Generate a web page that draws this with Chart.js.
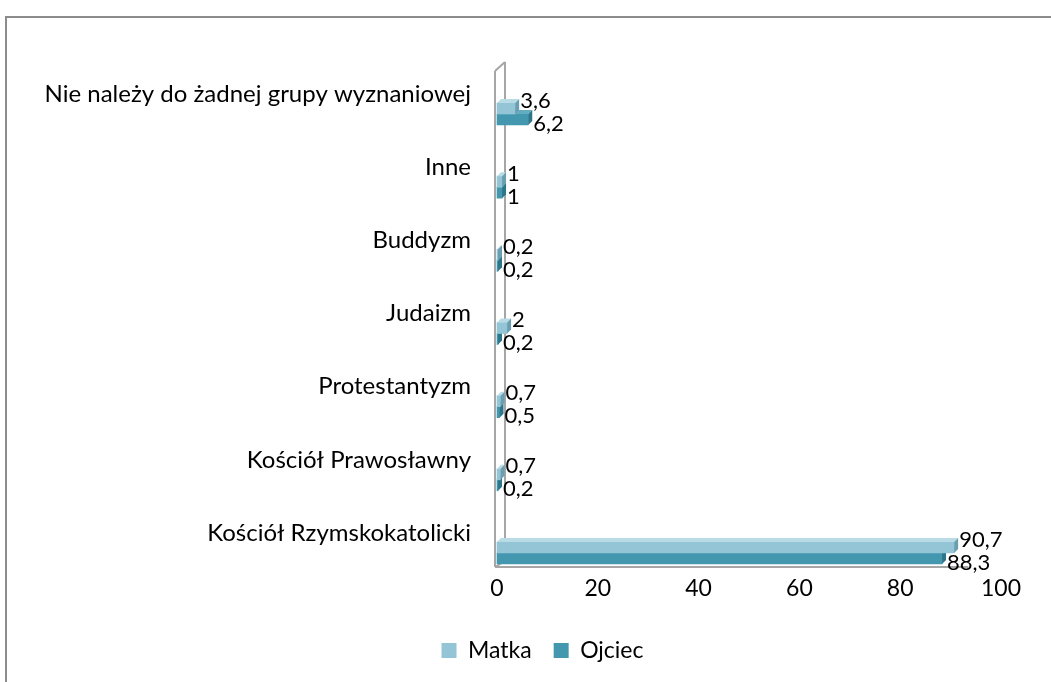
<!DOCTYPE html>
<html>
<head>
<meta charset="utf-8">
<script src="https://cdn.jsdelivr.net/npm/chart.js@4"></script>
<style>
    body { margin: 0; background: #fff; }
    #frame {
        position: absolute; left: 5px; top: 16px; width: 1046px; height: 666px;
        border-left: 2px solid #8c8c8c; border-top: 2px solid #8c8c8c;
    }
    #wrap { position: absolute; left: 0; top: 0; width: 1051px; height: 682px; }
</style>
</head>
<body>
<div id="frame"></div>
<div id="wrap"><canvas id="religionChart"></canvas></div>
<script>
const categories = ['Nie należy do żadnej grupy wyznaniowej', 'Inne', 'Buddyzm', 'Judaizm', 'Protestantyzm', 'Kościół Prawosławny', 'Kościół Rzymskokatolicki'];
const matka = [3.6, 1, 0.2, 2, 0.7, 0.7, 90.7];
const ojciec = [6.2, 1, 0.2, 0.2, 0.5, 0.2, 88.3];
const xTicks = [0, 20, 40, 60, 80, 100];

const FONT = 'Lato, "Open Sans", sans-serif';

// fake Excel 3D look: walls, top + right face on each bar, value labels
const bars3d = {
    id: 'bars3d',
    afterLayout(chart) {
        // legend sits a bit right of the canvas centre in the original
        if (chart.legend) {
            chart.legend.left += 42;
            chart.legend.right += 42;
        }
    },
    beforeDatasetsDraw(chart) {
        const ctx = chart.ctx;
        const a = chart.chartArea;
        const floor = a.bottom + 14;
        const wallTop = a.top - 52;
        ctx.save();
        ctx.strokeStyle = '#a6a6a6';
        ctx.lineWidth = 2;
        ctx.beginPath();
        ctx.moveTo(a.left - 2, wallTop + 9); ctx.lineTo(a.left - 2, floor);
        ctx.moveTo(a.left + 8, wallTop); ctx.lineTo(a.left + 8, floor - 6);
        ctx.moveTo(a.left - 2, wallTop + 9); ctx.lineTo(a.left + 8, wallTop);
        ctx.moveTo(a.left - 2, floor); ctx.lineTo(a.left + 8, floor - 6);
        ctx.moveTo(a.left - 2, floor); ctx.lineTo(a.left + (a.right - a.left) * 0.935, floor);
        ctx.stroke();
        ctx.restore();
    },
    afterDatasetDraw(chart, args) {
        const ctx = chart.ctx;
        const ds = chart.data.datasets[args.index];
        const d = 4;
        args.meta.data.forEach(function(bar, i) {
            const p = bar.getProps(['x', 'y', 'base', 'height'], true);
            const top = p.y - p.height / 2, bot = p.y + p.height / 2;
            ctx.save();
            ctx.fillStyle = ds.topColor;
            ctx.beginPath();
            ctx.moveTo(p.base, top); ctx.lineTo(p.x, top);
            ctx.lineTo(p.x + d, top - d); ctx.lineTo(p.base + d, top - d);
            ctx.closePath(); ctx.fill();
            ctx.fillStyle = ds.sideColor;
            ctx.beginPath();
            ctx.moveTo(p.x, top); ctx.lineTo(p.x + d, top - d);
            ctx.lineTo(p.x + d, bot - d); ctx.lineTo(p.x, bot);
            ctx.closePath(); ctx.fill();
            ctx.restore();
        });
    },
    afterDatasetsDraw(chart) {
        const ctx = chart.ctx;
        ctx.save();
        ctx.font = '22px ' + FONT;
        ctx.fillStyle = '#000';
        ctx.textBaseline = 'middle';
        ctx.textAlign = 'left';
        chart.data.datasets.forEach(function(ds, di) {
            const meta = chart.getDatasetMeta(di);
            meta.data.forEach(function(bar, i) {
                const txt = String(ds.data[i]).replace('.', ',');
                const dy = di === 0 ? -8 : 4;
                ctx.fillText(txt, bar.x + 5, bar.y + dy);
            });
        });
        ctx.restore();
    }
};

const ctx = document.getElementById('religionChart').getContext('2d');
const religionChart = new Chart(ctx, {
    type: 'bar',
    data: {
        labels: categories,
        datasets: [
            {
                label: 'Matka',
                data: matka,
                backgroundColor: '#93c5d6',
                topColor: '#b9dbe6',
                sideColor: '#6a9fb1',
                barThickness: 11,
                clip: false
            },
            {
                label: 'Ojciec',
                data: ojciec,
                backgroundColor: '#4398b0',
                topColor: '#64adc1',
                sideColor: '#2d7589',
                barThickness: 11,
                clip: false
            }
        ]
    },
    options: {
        indexAxis: 'y',
        responsive: true,
        maintainAspectRatio: false,
        animation: false,
        layout: {
            padding: { top: 114, right: 50, bottom: 10, left: 0 }
        },
        plugins: {
            legend: {
                position: 'bottom',
                labels: {
                    boxWidth: 15,
                    boxHeight: 15,
                    padding: 22,
                    color: '#000',
                    font: { family: FONT, size: 23 }
                }
            },
            tooltip: { enabled: false }
        },
        scales: {
            x: {
                min: 0,
                max: 100,
                afterBuildTicks: function(scale) {
                    scale.ticks = xTicks.map(v => ({ value: v }));
                },
                afterFit: function(scale) { scale.height = 64; },
                grid: { display: false },
                border: { display: false },
                ticks: {
                    padding: 14,
                    color: '#000',
                    font: { family: FONT, size: 23 }
                }
            },
            y: {
                offset: false,
                afterFit: function(scale) { scale.width = 497; },
                grid: { display: false, offset: false },
                border: { display: false },
                ticks: {
                    padding: 18,
                    labelOffset: -20,
                    color: '#000',
                    font: { family: FONT, size: 24 }
                }
            }
        }
    },
    plugins: [bars3d]
});
</script>
</body>
</html>
